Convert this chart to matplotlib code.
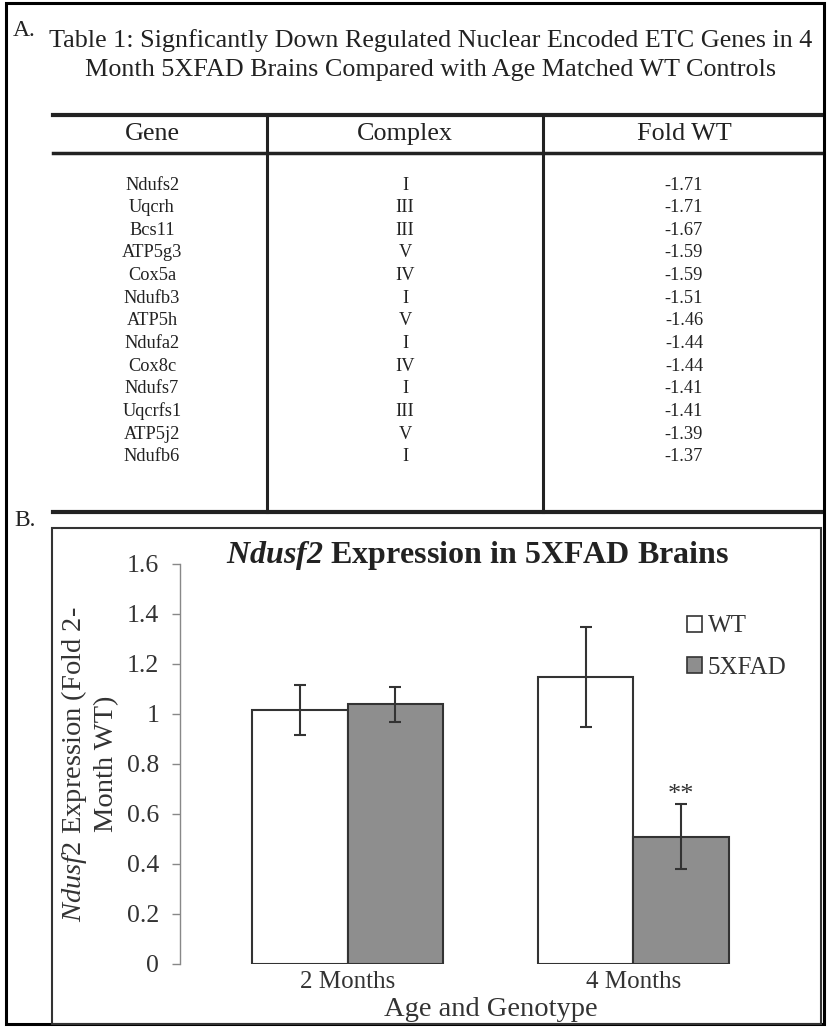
import matplotlib.pyplot as plt
import numpy as np
from matplotlib.lines import Line2D
from matplotlib.patches import Rectangle, Patch

plt.rcParams['font.family'] = ['Liberation Serif', 'DejaVu Serif']
plt.rcParams['mathtext.fontset'] = 'custom'
plt.rcParams['mathtext.rm'] = 'Liberation Serif'
plt.rcParams['mathtext.it'] = 'Liberation Serif:italic'
plt.rcParams['mathtext.bf'] = 'Liberation Serif:bold:italic'

# table data
genes = ["Ndufs2", "Uqcrh", "Bcs11", "ATP5g3", "Cox5a", "Ndufb3", "ATP5h",
         "Ndufa2", "Cox8c", "Ndufs7", "Uqcrfs1", "ATP5j2", "Ndufb6"]
complexes = ["I", "III", "III", "V", "IV", "I", "V", "I", "IV", "I", "III", "V", "I"]
fold_wt = ["-1.71", "-1.71", "-1.67", "-1.59", "-1.59", "-1.51", "-1.46",
           "-1.44", "-1.44", "-1.41", "-1.41", "-1.39", "-1.37"]

# bar chart data
ages = ["2 Months", "4 Months"]
wt = [1.015, 1.15]
wt_err = [0.10, 0.20]
xfad = [1.04, 0.51]
xfad_err = [0.07, 0.13]

W, H = 829, 1027
fig = plt.figure(figsize=(W / 100, H / 100), dpi=100)

def fx(x):
    return x / W

def fy(y):
    return 1 - y / H

def hline(y, x0, x1, lw, c="#222222"):
    fig.add_artist(Line2D([fx(x0), fx(x1)], [fy(y), fy(y)], lw=lw, color=c,
                          transform=fig.transFigure))

def vline(x, y0, y1, lw, c="#222222"):
    fig.add_artist(Line2D([fx(x), fx(x)], [fy(y0), fy(y1)], lw=lw, color=c,
                          transform=fig.transFigure))

# outer frame
fig.add_artist(Rectangle((fx(6), fy(1024)), fx(824) - fx(6), fy(3) - fy(1024),
                         fill=False, lw=2.2, ec="black", transform=fig.transFigure))

# part A: table
fig.text(fx(13), fy(31), "A.", fontsize=17, ha="left", va="center", color="#222222")
fig.text(fx(431), fy(41), "Table 1: Signficantly Down Regulated Nuclear Encoded ETC Genes in 4",
         fontsize=18.8, ha="center", va="center", color="#222222")
fig.text(fx(431), fy(70), "Month 5XFAD Brains Compared with Age Matched WT Controls",
         fontsize=18.8, ha="center", va="center", color="#222222")

hline(115, 53, 821, 3)
hline(153, 53, 821, 2.5)
hline(512, 53, 821, 3)
vline(267, 115, 512, 2.2)
vline(543, 115, 512, 2.2)

col_x = [152, 405, 684]
for x, lab in zip(col_x, ["Gene", "Complex", "Fold WT"]):
    fig.text(fx(x), fy(134), lab, fontsize=18.8, ha="center", va="center", color="#222222")

for i in range(len(genes)):
    y = 185 + i * 22.65
    for x, val in zip(col_x, [genes[i], complexes[i], fold_wt[i]]):
        fig.text(fx(x), fy(y), val, fontsize=13.2, ha="center", va="center", color="#222222")

# part B: bar chart
fig.text(fx(14), fy(521), "B.", fontsize=17, ha="left", va="center", color="#222222")
fig.add_artist(Rectangle((fx(52), fy(1024)), fx(821) - fx(52), fy(528) - fy(1024),
                         fill=False, lw=1.5, ec="#333333", transform=fig.transFigure))

ax = fig.add_axes([fx(180), fy(964), fx(801) - fx(180), fy(564) - fy(964)])
x = np.arange(len(ages))
bw = 1 / 3
ax.bar(x - bw / 2, wt, bw, color="white", edgecolor="#333333", lw=1.5,
       yerr=wt_err, error_kw=dict(ecolor="#333333", elinewidth=1.5, capsize=4, capthick=1.5),
       label="WT")
ax.bar(x + bw / 2, xfad, bw, color="#8e8e8e", edgecolor="#333333", lw=1.5,
       yerr=xfad_err, error_kw=dict(ecolor="#333333", elinewidth=1.5, capsize=4, capthick=1.5),
       label="5XFAD")
ax.text(x[1] + bw / 2, xfad[1] + xfad_err[1] + 0.035, "**", ha="center", va="center",
        fontsize=19, color="#333333")

ax.set_xlim(-0.587, 1.587)
ax.set_ylim(0, 1.6)
ax.set_yticks(np.arange(0, 1.61, 0.2))
ax.set_yticklabels(["0", "0.2", "0.4", "0.6", "0.8", "1", "1.2", "1.4", "1.6"])
ax.set_xticks(x)
ax.set_xticklabels(ages)
ax.tick_params(axis="y", length=6, width=1, color="#888888", labelsize=18.5,
               labelcolor="#333333", pad=9)
ax.tick_params(axis="x", length=0, labelsize=18, labelcolor="#333333", pad=5)
for s in ["top", "right", "bottom"]:
    ax.spines[s].set_visible(False)
ax.spines["left"].set_color("#888888")
ax.spines["left"].set_linewidth(1)

ax.set_xlabel("Age and Genotype", fontsize=20.5, color="#333333", labelpad=3)
ax.set_ylabel(r"$\mathit{Ndusf2}$ Expression (Fold 2-" + "\nMonth WT)", fontsize=20.5,
              color="#333333", linespacing=1.25)
ax.yaxis.set_label_coords(-0.098, 0.5)
fig.text(fx(478), fy(556), r"$\mathbf{Ndusf2}$ Expression in 5XFAD Brains",
         fontsize=23, fontweight="bold", ha="center", va="center", color="#222222")

handles = [Patch(facecolor="white", edgecolor="#333333", lw=1.2),
           Patch(facecolor="#8e8e8e", edgecolor="#333333", lw=1.2)]
ax.legend(handles, ["WT", "5XFAD"], loc="upper left", frameon=False,
          bbox_to_anchor=(fx(675), fy(603)), bbox_transform=fig.transFigure,
          fontsize=18, handlelength=0.6, handleheight=0.6, handletextpad=0.2,
          labelspacing=0.78, borderpad=0, labelcolor="#333333")

fig.savefig("out.png", dpi=100)
